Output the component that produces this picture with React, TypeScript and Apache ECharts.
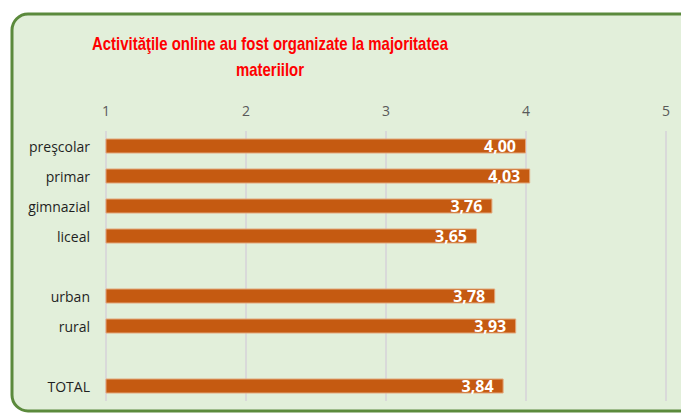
import React, { useEffect, useRef } from "react";
import * as echarts from "echarts";

const categories = ["preşcolar", "primar", "gimnazial", "liceal", "", "urban", "rural", " ", "TOTAL"];
const values: (number | null)[] = [4.0, 4.03, 3.76, 3.65, null, 3.78, 3.93, null, 3.84];
const titleLines = ["Activităţile online au fost organizate la majoritatea", "materiilor"];

export default function App() {
  const ref = useRef<HTMLDivElement>(null);
  useEffect(() => {
    if (!ref.current) return;
    const chart = echarts.init(ref.current, undefined, { renderer: "svg" });
    chart.setOption({
      animation: false,
      backgroundColor: "#ffffff",
      graphic: [
        {
          type: "rect",
          z: -10,
          shape: { x: 12, y: 14, width: 700, height: 397, r: 16 },
          style: { fill: "#e2efda", stroke: "#5b8a3c", lineWidth: 3 },
        },
        {
          type: "text",
          x: 270,
          y: 57,
          scaleX: 0.83,
          style: {
            text: titleLines.join("\n"),
            fill: "#ff0000",
            font: "bold 18px 'Liberation Sans', sans-serif",
            align: "center",
            verticalAlign: "middle",
            lineHeight: 26,
          },
        },
      ],
      grid: { left: 106, right: 15, top: 131, height: 270, containLabel: false },
      xAxis: {
        type: "value",
        position: "top",
        min: 1,
        max: 5,
        interval: 1,
        axisLine: { show: false },
        axisTick: { show: false },
        axisLabel: { color: "#595959", fontSize: 14, fontFamily: "'Open Sans', sans-serif", margin: 14 },
        splitLine: { lineStyle: { color: "#d9d9d9", width: 2 } },
      },
      yAxis: {
        type: "category",
        inverse: true,
        data: categories,
        axisLine: { show: false },
        axisTick: { show: false },
        axisLabel: { color: "#1f1f1f", fontSize: 14, fontFamily: "'Open Sans', sans-serif", margin: 16 },
        splitLine: { show: false },
      },
      series: [
        {
          type: "bar",
          data: values,
          barWidth: 15,
          itemStyle: { color: "#c55a11", borderColor: "#e3a77a", borderWidth: 1 },
          label: {
            show: true,
            position: "insideRight",
            distance: 10,
            color: "#ffffff",
            fontWeight: "bold",
            fontSize: 16,
            fontFamily: "'Open Sans', sans-serif",
            formatter: (p: any) => (p.value == null ? "" : Number(p.value).toFixed(2).replace(".", ",")),
          },
        },
      ],
    });
    return () => chart.dispose();
  }, []);
  return <div ref={ref} style={{ position: "fixed", left: 0, top: 0, width: 681, height: 416 }} />;
}
